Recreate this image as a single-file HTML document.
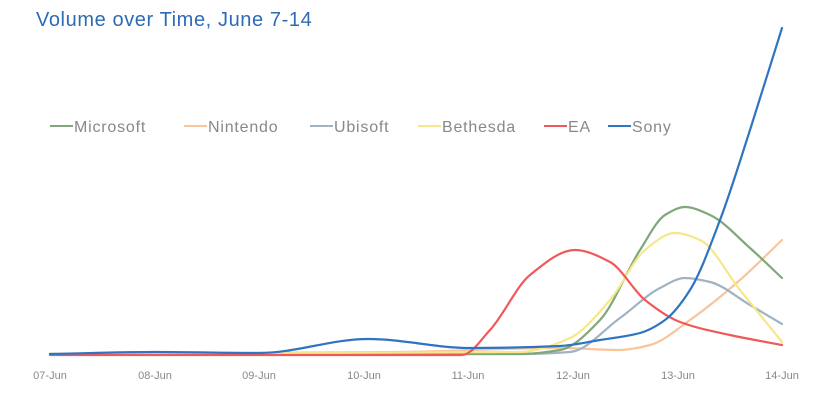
<!DOCTYPE html>
<html><head><meta charset="utf-8"><style>
html,body{margin:0;padding:0;background:#fff;width:840px;height:400px;overflow:hidden}
svg{display:block}
text{font-family:"Liberation Sans",sans-serif}
</style></head><body>
<svg id="s" width="840" height="400" viewBox="0 0 840 400">
<text x="36" y="26" font-size="20" letter-spacing="0.6" fill="#2e6bb5">Volume over Time, June 7-14</text>
<g font-size="16" letter-spacing="0.8" fill="#888">
<line x1="50" y1="126" x2="73" y2="126" stroke="#7fa87a" stroke-width="2"/><text x="74" y="132">Microsoft</text>
<line x1="184" y1="126" x2="207" y2="126" stroke="#f9c59b" stroke-width="2"/><text x="208" y="132">Nintendo</text>
<line x1="310" y1="126" x2="333" y2="126" stroke="#9fb3c3" stroke-width="2"/><text x="334" y="132">Ubisoft</text>
<line x1="418" y1="126" x2="441" y2="126" stroke="#f5e88a" stroke-width="2"/><text x="442" y="132">Bethesda</text>
<line x1="544" y1="126" x2="567" y2="126" stroke="#f0595a" stroke-width="2"/><text x="568" y="132">EA</text>
<line x1="608" y1="126" x2="631" y2="126" stroke="#2f74c0" stroke-width="2"/><text x="632" y="132">Sony</text>
</g>
<g font-size="11" fill="#888" text-anchor="middle">
<text x="50" y="379">07-Jun</text><text x="155" y="379">08-Jun</text><text x="259" y="379">09-Jun</text><text x="364" y="379">10-Jun</text><text x="468" y="379">11-Jun</text><text x="573" y="379">12-Jun</text><text x="678" y="379">13-Jun</text><text x="782" y="379">14-Jun</text>
</g>
<g id="lines" fill="none" stroke-width="2.2" stroke-linejoin="round" stroke-linecap="round"></g>
</svg>
<script>
var S=[
["#f9c59b",[[50,354],[400,352],[560,348],[620,350],[650,345],[690,320],[740,280],[782,240]]],
["#9fb3c3",[[50,354],[520,354],[570,352],[620,318],[660,288],[685,278],[710,282],[750,305],[782,324]]],
["#7fa87a",[[50,354],[520,354],[560,350],[600,320],[640,250],[665,215],[685,207],[710,215],[750,248],[782,278]]],
["#f5e88a",[[50,354],[520,352],[570,338],[610,300],[645,250],[675,233],[700,240],[740,290],[782,342]]],
["#f0595a",[[50,355],[380,355],[462,355],[490,330],[530,275],[575,250],[610,262],[645,300],[680,322],[730,335],[782,345]]],
["#2f74c0",[[50,354],[155,352],[259,353],[368,339],[470,348],[560,346],[600,340],[640,333],[665,320],[690,290],[720,220],[750,130],[782,28]]]
];
var g=document.getElementById("lines");
S.forEach(function(s){var p=s[1],n=p.length,d=[],m=[];
for(var i=0;i<n-1;i++)d.push((p[i+1][1]-p[i][1])/(p[i+1][0]-p[i][0]));
for(var i=0;i<n;i++){if(i==0)m.push(d[0]);else if(i==n-1)m.push(d[n-2]);else if(d[i-1]*d[i]<=0)m.push(0);else{var w1=2*(p[i+1][0]-p[i][0])+(p[i][0]-p[i-1][0]),w2=(p[i+1][0]-p[i][0])+2*(p[i][0]-p[i-1][0]);m.push((w1+w2)/(w1/d[i-1]+w2/d[i]));}}
var path="M"+p[0][0]+","+p[0][1];
for(var i=0;i<n-1;i++){var h=(p[i+1][0]-p[i][0])/3;
path+=" C"+(p[i][0]+h)+","+(p[i][1]+m[i]*h)+" "+(p[i+1][0]-h)+","+(p[i+1][1]-m[i+1]*h)+" "+p[i+1][0]+","+p[i+1][1];}
var el=document.createElementNS("http://www.w3.org/2000/svg","path");el.setAttribute("d",path);el.setAttribute("stroke",s[0]);g.appendChild(el);});
</script>
</body></html>
